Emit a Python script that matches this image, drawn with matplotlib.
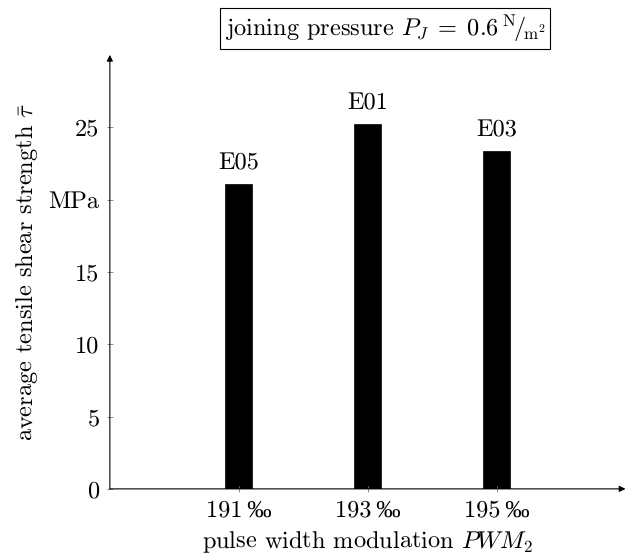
import matplotlib.pyplot as plt

plt.rcParams["font.family"] = ["cmr10", "Liberation Serif", "DejaVu Serif"]
plt.rcParams["mathtext.fontset"] = "cm"
plt.rcParams["axes.formatter.use_mathtext"] = True
plt.rcParams["text.hinting"] = "no_hinting"

pwm = [191, 193, 195]
tau = [21.1, 25.25, 23.35]
names = ["E05", "E01", "E03"]
yticks = [0, 5, 10, 15, 20, 25]
ylabels = ["0", "5", "10", "15", "MPa", "25"]

fs = 17.5

fig = plt.figure(figsize=(6.35, 5.6), dpi=100)
ax = fig.add_axes([0.173, 0.127, 0.812, 0.775])

ax.bar(pwm, tau, width=0.42, color="black", edgecolor="black", linewidth=0.5)
for x, y, n in zip(pwm, tau, names):
    ax.annotate(n, (x, y), xytext=(0, 7), textcoords="offset points",
                ha="center", va="bottom", fontsize=fs)

ax.set_xlim(189, 197)
ax.set_ylim(0, 30)
ax.set_xticks(pwm)
ax.set_xticklabels([f"{p}\u2009\u2030" for p in pwm], fontsize=fs)
ax.set_yticks(yticks)
ax.set_yticklabels(ylabels, fontsize=fs)
ax.tick_params(direction="inout", length=5, width=0.6, color="gray", pad=5)

# axis lines with arrow heads instead of spines
for s in ax.spines.values():
    s.set_visible(False)
ax.annotate("", xy=(1.0, 0), xytext=(0, 0), xycoords="axes fraction",
            arrowprops=dict(arrowstyle="-|>", color="black", lw=0.8,
                            mutation_scale=9, shrinkA=0, shrinkB=0))
ax.annotate("", xy=(0, 1.0), xytext=(0, 0), xycoords="axes fraction",
            arrowprops=dict(arrowstyle="-|>", color="black", lw=0.8,
                            mutation_scale=9, shrinkA=0, shrinkB=0))

ax.set_xlabel(r"pulse width modulation $PWM_2$", fontsize=fs, labelpad=6)
ax.set_ylabel(r"average tensile shear strength $\bar{\tau}$", fontsize=fs, labelpad=6)

fig.text(0.606, 0.949,
         r"joining pressure $P_J \;=\; 0.6\,{}^{\mathrm{N}}\!/\!{}_{\mathrm{m}^2}$",
         ha="center", va="center", fontsize=fs,
         bbox=dict(boxstyle="square,pad=0.2", facecolor="white", edgecolor="black", lw=0.8))

fig.savefig("out.png", dpi=100)
